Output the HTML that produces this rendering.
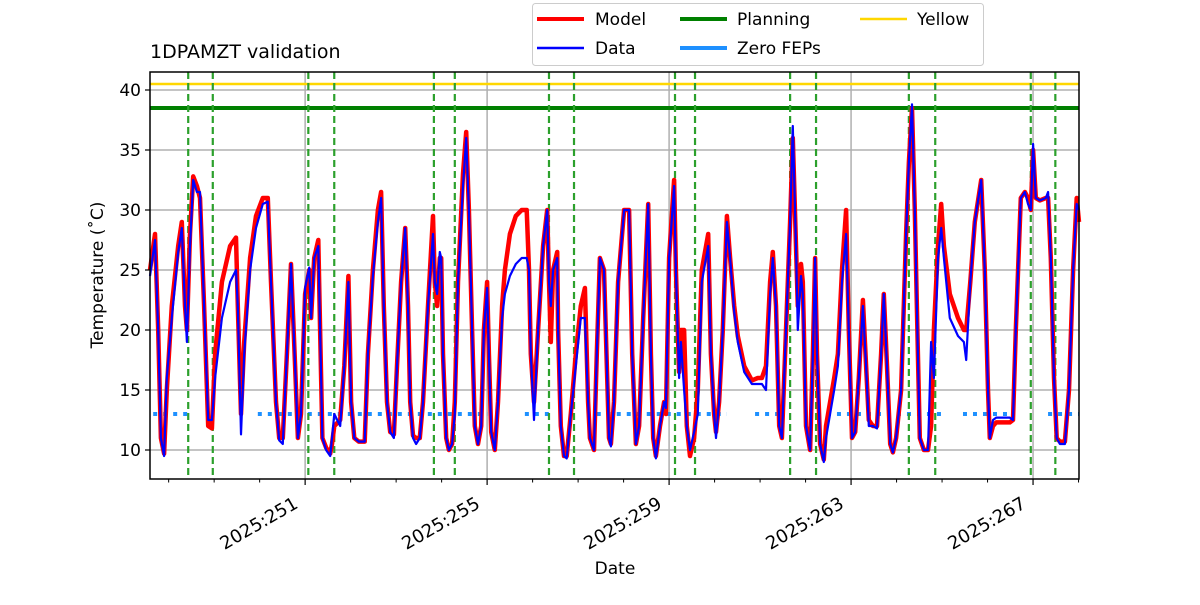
<!DOCTYPE html>
<html><head><meta charset="utf-8"><style>
body{margin:0;background:#fff;font-family:"Liberation Sans","DejaVu Sans",sans-serif}
</style></head><body>
<svg id="chart" width="1200" height="600" viewBox="0 0 1200 600" style="font-family:'DejaVu Sans','Liberation Sans',sans-serif">
<rect width="1200" height="600" fill="#fff"/>
<g id="grid"></g>
<g id="marks"></g>
<rect x="150" y="72" width="929" height="407" fill="none" stroke="#000" stroke-width="1.5"/>
<g id="axes"></g>
<text x="150" y="58" font-size="19">1DPAMZT validation</text>
<text x="615" y="574" font-size="17" text-anchor="middle">Date</text>
<text transform="translate(103,275) rotate(-90)" font-size="17" text-anchor="middle">Temperature (˚C)</text>
<g>
<rect x="532.5" y="3.5" width="451" height="62" rx="3" fill="#fff" stroke="#ccc"/>
<g><line x1="537" y1="19" x2="584" y2="19" stroke="red" stroke-width="4"/><text x="595" y="25" font-size="17">Model</text></g>
<g><line x1="537" y1="48" x2="584" y2="48" stroke="blue" stroke-width="2.5"/><text x="595" y="54" font-size="17">Data</text></g>
<g><line x1="680" y1="19" x2="727" y2="19" stroke="green" stroke-width="4"/><text x="737" y="25" font-size="17">Planning</text></g>
<g><line x1="680" y1="48" x2="727" y2="48" stroke="dodgerblue" stroke-width="4"/><text x="737" y="54" font-size="17">Zero FEPs</text></g>
<g><line x1="860" y1="19" x2="907" y2="19" stroke="gold" stroke-width="2.5"/><text x="917" y="25" font-size="17">Yellow</text></g>
</g>
</svg>
<script>
const times=[247.59,247.70,247.77,247.83,247.90,247.96,248.07,248.21,248.29,248.36,248.40,248.47,248.54,248.62,248.69,248.78,248.87,248.95,249.02,249.17,249.35,249.48,249.52,249.59,249.66,249.79,249.92,250.07,250.18,250.25,250.36,250.43,250.51,250.60,250.69,250.78,250.84,250.91,251.00,251.09,251.13,251.20,251.29,251.33,251.38,251.46,251.55,251.59,251.64,251.77,251.86,251.95,252.01,252.08,252.18,252.31,252.38,252.49,252.60,252.67,252.73,252.80,252.87,252.95,253.02,253.11,253.20,253.26,253.31,253.37,253.44,253.52,253.59,253.70,253.81,253.85,253.90,253.96,253.99,254.03,254.10,254.16,254.23,254.29,254.36,254.47,254.54,254.60,254.67,254.73,254.80,254.87,254.93,255.00,255.04,255.09,255.17,255.24,255.33,255.39,255.50,255.63,255.76,255.87,255.92,255.96,256.03,256.12,256.23,256.32,256.36,256.40,256.45,256.54,256.56,256.62,256.69,256.75,256.84,256.95,257.06,257.15,257.22,257.26,257.35,257.41,257.48,257.57,257.64,257.68,257.72,257.79,257.88,258.01,258.12,258.19,258.27,258.34,258.43,258.54,258.60,258.65,258.71,258.80,258.89,258.93,259.00,259.11,259.15,259.22,259.26,259.33,259.39,259.46,259.55,259.63,259.72,259.86,259.92,259.99,260.03,260.10,260.18,260.27,260.34,260.43,260.51,260.65,260.82,260.95,261.04,261.13,261.22,261.28,261.35,261.42,261.48,261.57,261.66,261.72,261.79,261.83,261.90,261.94,262.01,262.10,262.16,262.21,262.25,262.32,262.40,262.45,262.54,262.63,262.71,262.80,262.89,262.95,263.02,263.09,263.17,263.26,263.33,263.39,263.48,263.57,263.66,263.72,263.79,263.86,263.92,263.99,264.10,264.21,264.27,264.34,264.40,264.47,264.51,264.60,264.69,264.76,264.82,264.91,264.98,265.04,265.17,265.35,265.48,265.53,265.62,265.72,265.86,265.94,266.01,266.05,266.12,266.19,266.49,266.56,266.62,266.73,266.82,266.89,266.95,267.00,267.06,267.15,267.28,267.33,267.39,267.46,267.52,267.59,267.70,267.79,267.88,267.96,268.01];
const modelTemps=[25,28,20,11,9.7,15,22,27,29,22,20,28,32.8,32,31,22,12,11.8,18,24,27,27.7,22,13,19,26,29.5,31,31,24,14,11,11,18,25.5,17,11,13,23,25,21,26,27.5,20,11,10.2,9.7,10.5,12,12.5,17,24.5,14,11,10.7,10.7,18,25,30,31.5,22,14,11.5,11.3,17,24,28.5,22,14,11.2,11,11,14,22,29.5,24,22,26,26,18,11,10,10.5,14,24,33,36.5,30,20,12,10.5,12,20,24,18,11.5,10,14,22,25,28,29.5,30,30,25,18,14,20,27,30,24,19,25,26.5,20,12,9.5,9.5,13,18,22,23.5,14,11,10,18,26,25,16,11,10.5,14,24,30,30,18,10.5,12,21,30.5,18,11,9.5,12,14,13,26,32.5,25,16.5,20,20,12,9.5,11,15,25,28,18,13,11.5,14,20,29.5,26,22,19.5,17,15.8,16,16,17,24,26.5,22,12,11,20,29,36,27,22,25.5,24,12,10,18,26,18,10.5,9.2,12,14,16,18,25,30,20,11,11.5,16,22.5,17,12.5,12,12,18,23,17,10.5,9.8,11,15,28,34,38.5,30,18,11,10,10,12,20,27,30.5,27,23,21,20,20,24,29,32.5,25,15,11,12,12.3,12.3,12.5,20,31,31.5,31,30,35,31,30.8,31,31,26,16,11,10.7,10.7,15,25,31,29];
const dataTemps=[24.5,27.5,20,11,9.5,16,21,26.5,28.5,22,19,27,32.5,31.5,31.5,22,12.5,12.5,16,21,24,25,22,11.3,18,25,28.5,30.5,30.7,24,14,10.8,10.5,18,25.5,17,11,13,23.5,25.2,21,26,27,20,11,10,9.5,11,13,12,17,24,14,11,10.7,10.7,18,24.5,29,31,22,14,11.5,11,17,24,28.5,22,14,11,10.5,11,14,22,28,24,23,26.5,26,18,11,10,10.5,13,24,32,36,30,20,12,10.5,12,20,23.5,18,11.5,10,14,21,23,24.5,25.5,26,26,25,18,12.5,20,27,30,24,22,25,26,20,12,9.5,9.3,13,17,21,21,14,11,10,18,26,25,16,11,10.3,14,24,30,30,18,10.5,12,21,30.5,18,11,9.3,12,14,13.5,26,32,25,16,19,15,12,10,11.5,13,24,27,18,13,11,14,20,29,26,21.5,19,16.5,15.5,15.5,15.5,15,23,26,22,12,11,20,29,37,27,20,24.5,23,12,10,18,26,18,10.5,9.0,11,13,15,17,24,28,20,11,11.5,16,22,17,12,12,11.8,18,23,17,10.5,9.8,11,15,28,34,38.8,30,18,11,10,10,19,16,26,28.5,26,21,19.5,19,17.5,24,29,32.5,25,15,11,12.5,12.7,12.7,12.5,20,31,31.5,30.5,30,35.5,31,30.8,31,31.5,26,16,11,10.5,10.5,15,25,30.5,30];
const eventDays=[248.43,248.97,251.07,251.64,253.83,254.29,256.36,256.91,259.13,259.57,261.66,262.23,264.27,264.85,266.95,267.49];
const zeroFepStarts=[247.66,249.96,255.83,257.41,260.89,262.47,265.46,267.33];
const zeroFepEnds=[248.47,255.02,256.38,260.27,261.50,265.02,266.49,268.01];
const zeroFepLevel=13;
const planningLimit=38.5;
const yellowLimit=40.5;
const yTicks=[10,15,20,25,30,35,40];
const xTickDays=[251,255,259,263,267];
const xTickLabels=['2025:251','2025:255','2025:259','2025:263','2025:267'];

const NS='http://www.w3.org/2000/svg';
const X0=150,X1=1079,Y0=72,Y1=479,D0=247.59,D1=268.01;
function xs(d){return X0+(d-D0)/(D1-D0)*(X1-X0);}
function ys(v){return 450-(v-10)*12;}
function mk(tag,attrs,parent){const e=document.createElementNS(NS,tag);for(const k in attrs)e.setAttribute(k,attrs[k]);parent.appendChild(e);return e;}
const grid=document.getElementById('grid'),marks=document.getElementById('marks'),axes=document.getElementById('axes');
yTicks.forEach(v=>{
  const l=mk('line',{x1:X0,x2:X1,y1:ys(v),y2:ys(v),stroke:'#b0b0b0','stroke-width':1.5},grid);
  
  
  const t=mk('line',{x1:X0-5,x2:X0,y1:ys(v),y2:ys(v),stroke:'#000','stroke-width':1.2},axes);
  
  
  const tx=mk('text',{x:X0-9,y:ys(v)+6,'font-size':17,'text-anchor':'end'},axes);
  tx.textContent=v;
  
  
});
xTickDays.forEach((d,i)=>{
  const l=mk('line',{x1:xs(d),x2:xs(d),y1:Y0,y2:Y1,stroke:'#b0b0b0','stroke-width':1.5},grid);
  
  
  const t=mk('line',{x1:xs(d),x2:xs(d),y1:Y1,y2:Y1+6,stroke:'#000','stroke-width':1.2},axes);
  
  
  const tx=mk('text',{'font-size':18,'text-anchor':'end',transform:`translate(${xs(d)-6},${Y1+28}) rotate(-30)`},axes);
  tx.textContent=xTickLabels[i];
  
  
});
for(let d=248;d<=268;d++){
  if(xTickDays.includes(d))continue;
  const t=mk('line',{x1:xs(d),x2:xs(d),y1:Y1,y2:Y1+3.5,stroke:'#000','stroke-width':1},axes);
  
  
}
const yl=mk('line',{x1:X0,x2:X1,y1:ys(yellowLimit),y2:ys(yellowLimit),stroke:'gold','stroke-width':2.5},marks);


const pl=mk('line',{x1:X0,x2:X1,y1:ys(planningLimit),y2:ys(planningLimit),stroke:'green','stroke-width':4},marks);


zeroFepStarts.forEach((s,i)=>{
  const l=mk('line',{x1:xs(s),x2:xs(zeroFepEnds[i]),y1:ys(zeroFepLevel),y2:ys(zeroFepLevel),stroke:'dodgerblue','stroke-width':4,'stroke-dasharray':'4,6'},marks);
  
  
});
eventDays.forEach(d=>{
  const l=mk('line',{x1:xs(d),x2:xs(d),y1:Y0,y2:Y1,stroke:'#2ca02c','stroke-width':2.2,'stroke-dasharray':'7,4'},marks);
  
  
});
function path(vals){return vals.map((v,i)=>(i?'L':'M')+xs(times[i]).toFixed(1)+','+ys(v).toFixed(1)).join(' ');}
const mp=mk('path',{d:path(modelTemps),fill:'none',stroke:'red','stroke-width':4.5,'stroke-linejoin':'round'},marks);


const dp=mk('path',{d:path(dataTemps),fill:'none',stroke:'blue','stroke-width':2.2,'stroke-linejoin':'round'},marks);


</script>
</body></html>
